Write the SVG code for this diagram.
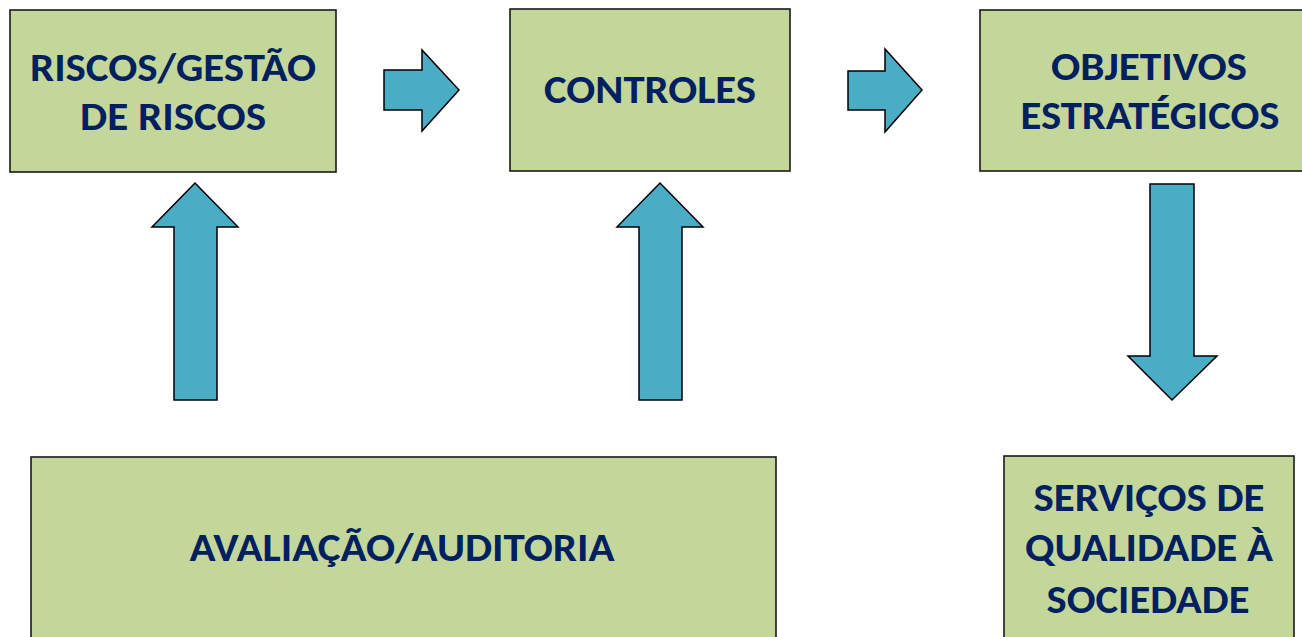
<svg xmlns="http://www.w3.org/2000/svg" width="1302" height="637" viewBox="0 0 1302 637">
  <style>
    .box { fill: #C4D79B; stroke: #1a1a1a; stroke-width: 1.6; }
    .lbl { font-family: "Carlito", "Open Sans", "Noto Sans", sans-serif; font-weight: 700; font-size: 41px; fill: #002060; text-anchor: middle; }
    .arr { fill: #4BACC6; stroke: #000000; stroke-width: 1.5; stroke-linejoin: miter; }
  </style>
  <rect width="1302" height="637" fill="#ffffff"/>
  <g id="connectors">
    <polygon class="arr" points="384,70 422,70 422,50 459,90 422,131 422,110 384,110"/>
    <polygon class="arr" points="848,71 885,71 885,49 922,90 885,132 885,110 848,110"/>
    <polygon class="arr" points="174,400 174,227 152,227 195,183 238,227 217,227 217,400"/>
    <polygon class="arr" points="639,400 639,227 617,227 660,183 703,227 682,227 682,400"/>
    <polygon class="arr" points="1150,184 1194,184 1194,356 1217,356 1172,400 1128,356 1150,356"/>
  </g>
  <g id="riscos">
    <rect class="box" x="10" y="10" width="326" height="162"/>
    <text class="lbl" x="173" y="81" textLength="286" lengthAdjust="spacingAndGlyphs">RISCOS/GESTÃO</text>
    <text class="lbl" x="173" y="130" textLength="186" lengthAdjust="spacingAndGlyphs">DE RISCOS</text>
  </g>
  <g id="controles">
    <rect class="box" x="510" y="9" width="280" height="162"/>
    <text class="lbl" x="650" y="103" textLength="212" lengthAdjust="spacingAndGlyphs">CONTROLES</text>
  </g>
  <g id="objetivos">
    <rect class="box" x="980" y="10" width="340" height="161"/>
    <text class="lbl" x="1149" y="80" textLength="196" lengthAdjust="spacingAndGlyphs">OBJETIVOS</text>
    <text class="lbl" x="1150" y="129" textLength="259" lengthAdjust="spacingAndGlyphs">ESTRATÉGICOS</text>
  </g>
  <g id="avaliacao">
    <rect class="box" x="31" y="457" width="745" height="200"/>
    <text class="lbl" x="402" y="561" textLength="425" lengthAdjust="spacingAndGlyphs">AVALIAÇÃO/AUDITORIA</text>
  </g>
  <g id="servicos">
    <rect class="box" x="1004" y="456" width="290" height="200"/>
    <text class="lbl" x="1149" y="511" textLength="231" lengthAdjust="spacingAndGlyphs">SERVIÇOS DE</text>
    <text class="lbl" x="1149" y="561" textLength="248" lengthAdjust="spacingAndGlyphs">QUALIDADE À</text>
    <text class="lbl" x="1148" y="613" textLength="203" lengthAdjust="spacingAndGlyphs">SOCIEDADE</text>
  </g>
</svg>
